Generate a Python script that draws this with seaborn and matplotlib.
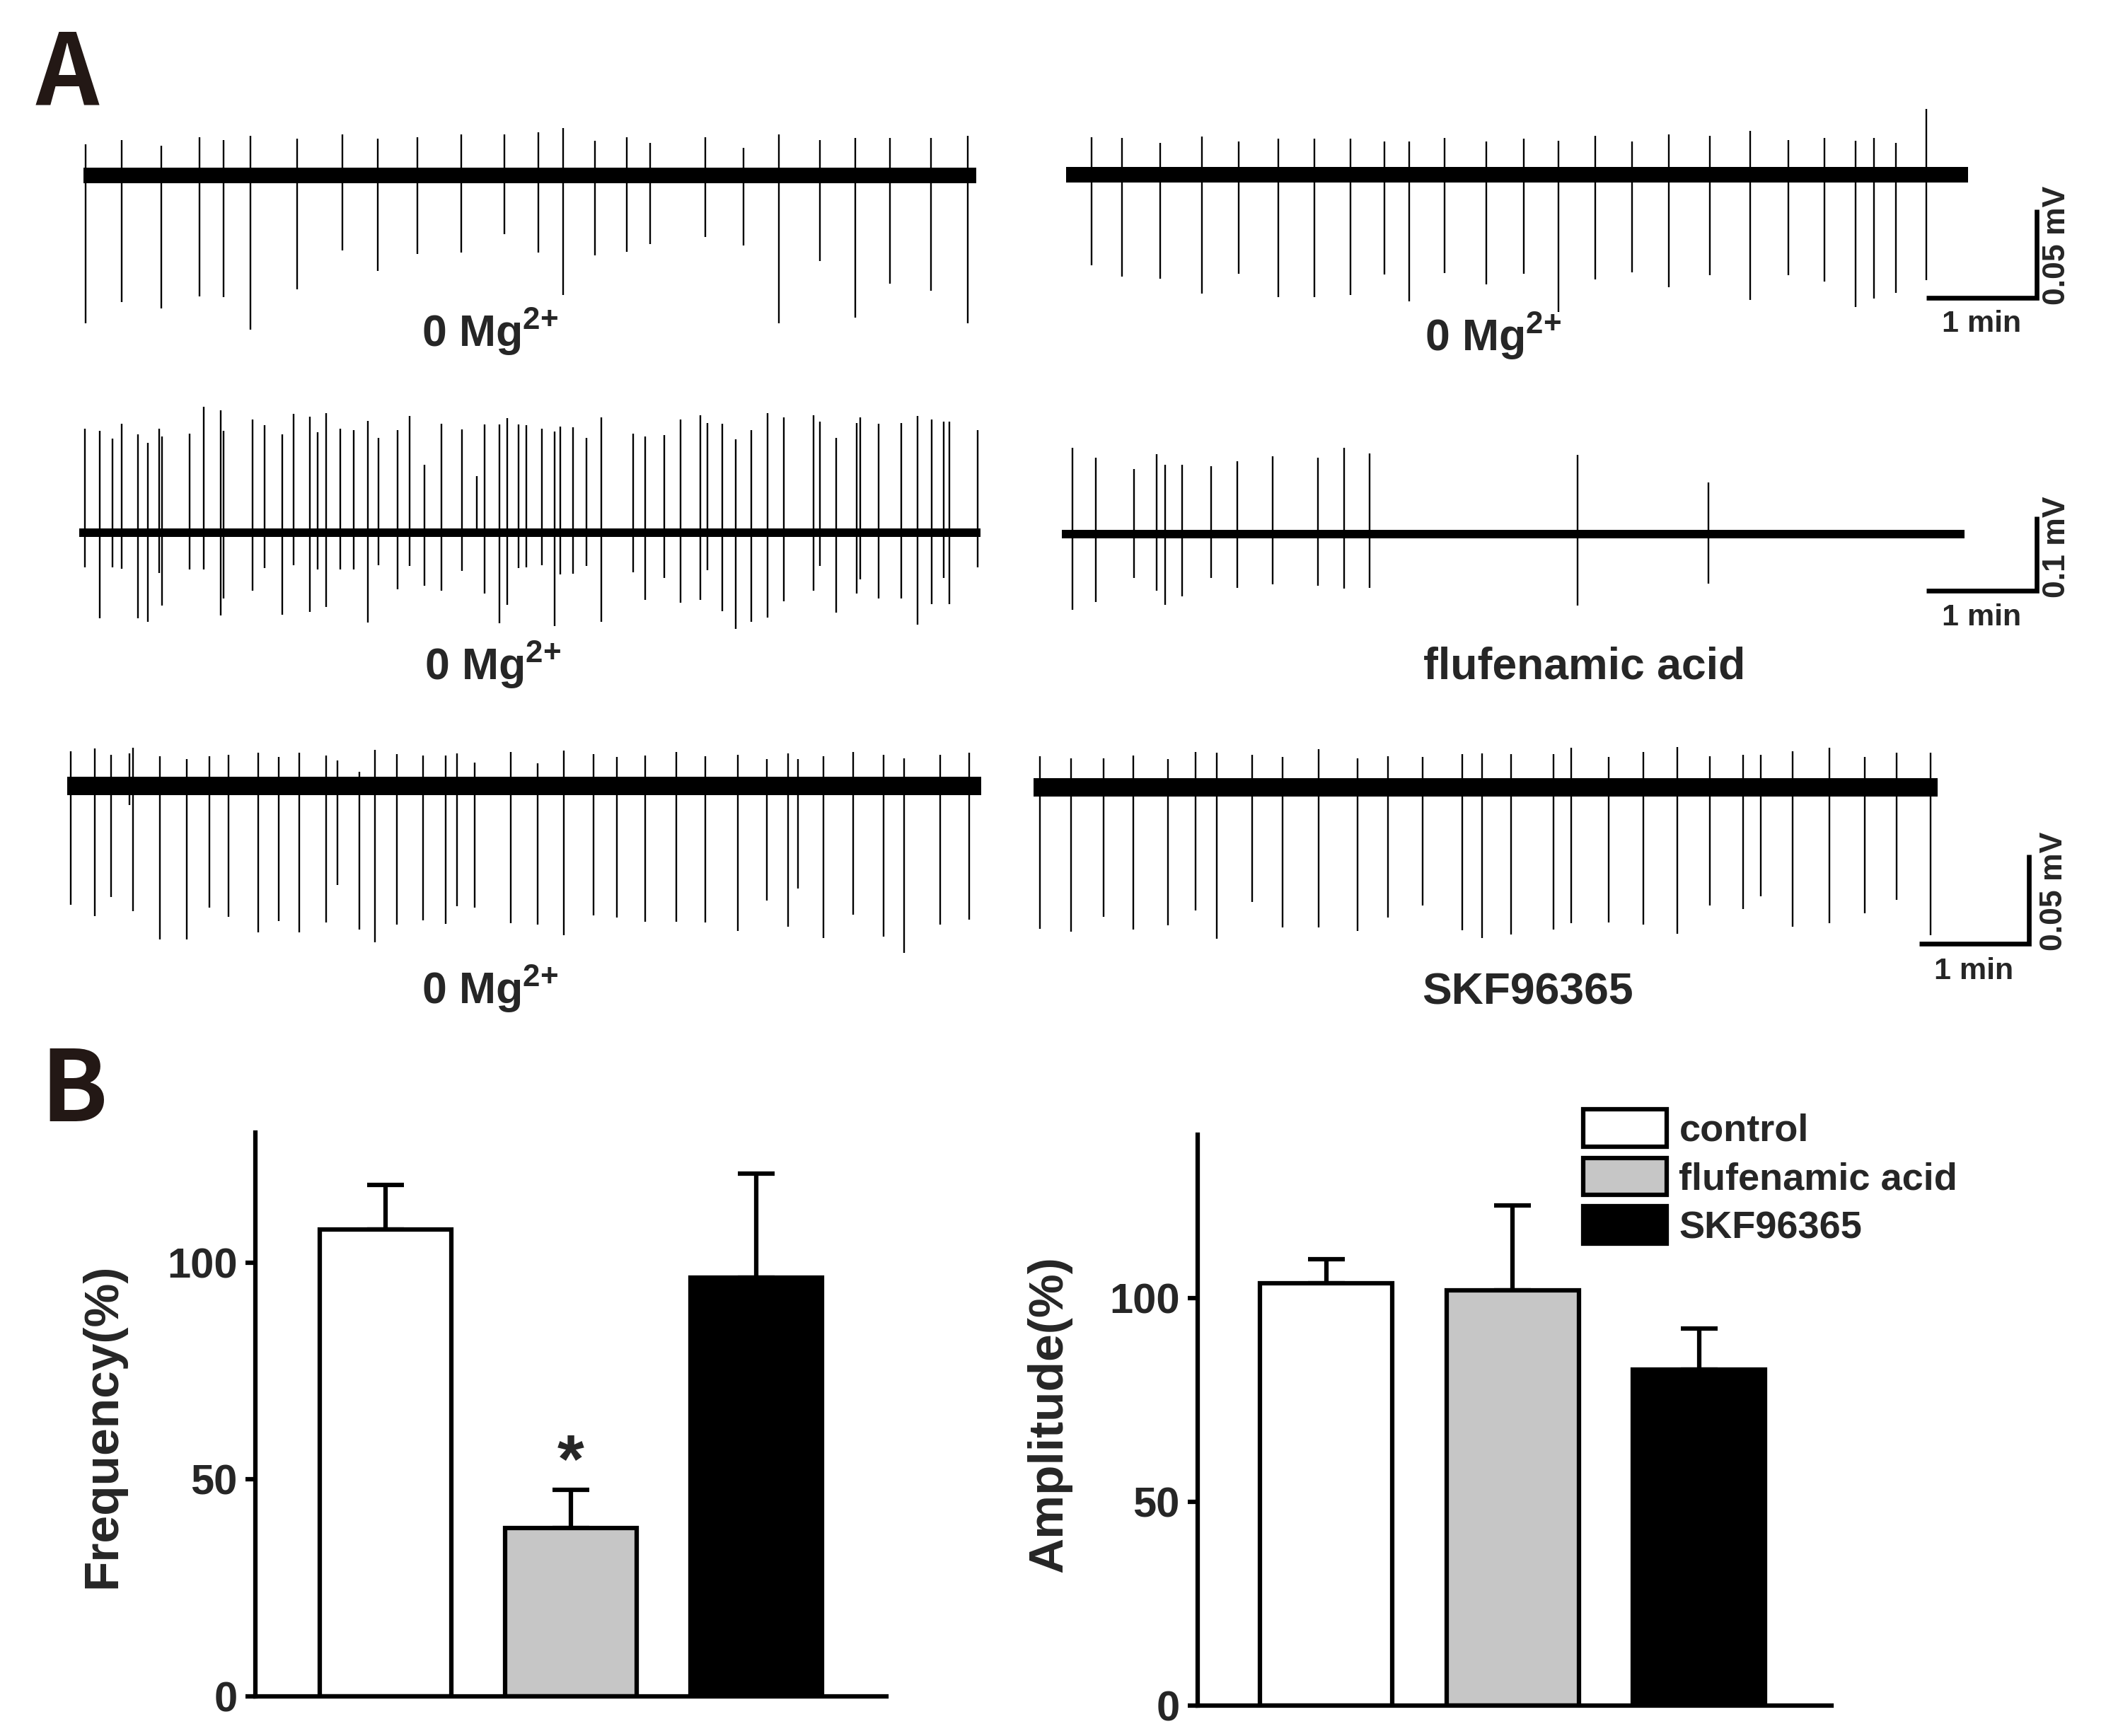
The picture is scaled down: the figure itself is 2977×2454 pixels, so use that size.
import numpy as np
import matplotlib
matplotlib.use("Agg")
import matplotlib.pyplot as plt
import seaborn as sns
from matplotlib.patches import Patch

# ---------------- DATA ----------------
# Panel A: extracellular spike traces (spike time in s, upward / downward deflection in microvolts)
r1l_t = [1.0, 20.7, 42.4, 63.1, 76.2, 90.9, 116.0, 140.9, 160.0, 181.7, 205.3, 228.9, 247.4,
         260.8, 278.0, 295.5, 308.0, 337.9, 359.0, 378.1, 400.4, 419.5, 438.4, 460.7, 480.8]
r1l_up = [17.7, 20.0, 16.9, 21.6, 20.0, 22.4, 20.9, 23.1, 20.7, 21.7, 23.3, 23.3, 24.3,
          26.7, 19.7, 21.7, 18.4, 21.7, 15.7, 23.3, 20.0, 21.1, 21.1, 21.1, 22.4]
r1l_down = [83.6, 71.6, 75.3, 68.4, 68.7, 87.1, 64.3, 42.4, 54.0, 44.4, 43.7, 33.2, 43.5,
            67.6, 45.3, 43.1, 38.9, 34.9, 39.7, 83.6, 48.4, 80.4, 61.3, 65.1, 83.6]

r1r_t = [13.7, 30.3, 51.0, 74.0, 93.7, 115.4, 134.9, 154.6, 173.1, 186.5, 205.9, 228.3, 249.0,
         267.8, 287.6, 307.6, 327.7, 350.0, 372.0, 392.8, 412.2, 429.1, 439.3, 451.1, 467.7]
r1r_up = [21.3, 20.7, 17.9, 21.6, 18.9, 20.3, 20.5, 20.3, 18.7, 18.7, 20.9, 18.9, 20.3,
          19.3, 22.0, 18.7, 22.9, 21.9, 24.9, 19.6, 20.9, 19.2, 20.9, 17.9, 37.2]
r1r_down = [51.1, 57.7, 58.7, 67.1, 56.1, 69.1, 69.1, 68.1, 56.4, 71.5, 55.7, 62.0, 56.0,
            77.6, 59.3, 55.1, 63.7, 56.8, 70.8, 56.8, 60.4, 74.7, 70.1, 66.8, 59.7]

r2l_t = [3.2, 11.2, 18.0, 23.1, 31.8, 37.3, 43.4, 45.0, 60.1, 67.5, 76.8, 78.4, 94.1, 100.9,
         110.2, 116.6, 125.3, 129.8, 134.3, 142.0, 149.1, 156.8, 162.6, 172.9, 179.6, 187.6,
         197.0, 208.2, 216.2, 220.4, 228.4, 232.6, 238.7, 242.9, 251.6, 258.3, 261.5, 268.6,
         275.7, 284.0, 301.1, 307.5, 318.1, 327.1, 337.7, 341.5, 349.6, 357.0, 365.3, 374.3,
         383.0, 399.4, 402.6, 411.6, 422.5, 424.8, 434.7, 446.9, 455.9, 463.3, 470.1, 473.0, 488.4]
r2l_up = [139.7, 137.5, 126.4, 146.4, 132.7, 120.7, 139.7, 129.5, 133.7, 169.9, 164.5, 137.5,
          152.4, 144.5, 132.1, 159.7, 155.9, 135.3, 161.3, 140.0, 138.1, 150.2, 128.0, 138.4,
          157.5, 91.4, 147.0, 139.1, 76.2, 145.4, 145.4, 154.0, 145.4, 144.5, 140.0, 135.9,
          143.2, 141.6, 127.3, 155.6, 133.4, 129.5, 131.1, 152.7, 158.1, 148.0, 147.0, 125.7,
          138.1, 161.3, 154.9, 158.1, 149.2, 128.0, 148.0, 154.9, 147.0, 147.6, 157.5, 152.4,
          149.2, 149.2, 138.1]
r2l_down = [46.7, 115.6, 46.7, 48.3, 115.6, 119.7, 54.6, 98.1, 49.2, 49.2, 111.8, 88.6, 78.4,
            47.3, 110.8, 43.5, 107.0, 49.2, 100.0, 49.2, 49.2, 121.3, 43.5, 75.9, 45.1, 71.4,
            78.4, 51.4, 3.0, 81.6, 121.9, 97.5, 47.3, 46.7, 43.5, 125.4, 56.2, 55.2, 44.5,
            119.7, 53.0, 90.2, 61.0, 94.3, 90.5, 50.5, 105.4, 129.9, 119.7, 114.3, 92.1, 78.4,
            45.1, 108.0, 81.6, 62.5, 88.9, 88.9, 123.5, 95.9, 61.0, 95.9, 46.7]

r2r_t = [5.8, 18.5, 39.2, 51.5, 56.3, 65.4, 81.0, 95.2, 114.6, 139.2, 153.5, 167.4, 280.4, 351.6]
r2r_up = [116.5, 103.2, 87.9, 107.3, 93.7, 93.0, 91.4, 97.8, 104.8, 103.2, 115.9, 108.9, 106.4, 69.9]
r2r_down = [102.2, 91.1, 58.7, 76.2, 95.3, 84.1, 58.7, 72.1, 67.6, 69.9, 73.7, 72.4, 95.9, 66.7]

r3l_t = [2.0, 15.0, 24.1, 33.9, 35.9, 50.9, 65.5, 77.9, 88.3, 104.6, 115.7, 127.1, 141.8,
         148.0, 159.7, 168.5, 180.6, 194.6, 207.3, 213.5, 223.0, 242.9, 257.5, 271.9, 287.9,
         300.9, 316.2, 333.2, 349.1, 367.1, 383.0, 394.5, 400.0, 413.7, 430.3, 446.9, 458.0,
         477.6, 493.6]
r3l_up = [19.6, 20.9, 17.6, 18.3, 21.6, 16.7, 15.0, 16.7, 17.6, 18.5, 16.3, 18.5, 17.2,
          14.3, 8.1, 20.2, 17.9, 17.2, 17.2, 18.3, 13.2, 19.2, 12.7, 19.8, 17.9,
          16.3, 17.2, 19.2, 16.7, 17.6, 15.0, 18.3, 15.0, 16.7, 19.2, 17.3, 15.6, 17.3, 18.5]
r3l_down = [66.8, 73.0, 62.4, 10.8, 70.4, 86.3, 86.0, 68.1, 73.4, 82.3, 75.7, 82.3, 76.6,
            55.6, 80.7, 87.6, 77.9, 75.4, 77.3, 67.3, 68.4, 77.0, 77.9, 83.9, 72.8,
            73.7, 76.1, 76.3, 76.7, 81.2, 64.4, 79.0, 57.4, 85.3, 72.4, 84.5, 93.8, 77.9, 75.0]

r3r_t = [3.3, 20.4, 38.5, 54.5, 73.4, 88.5, 100.4, 119.7, 136.3, 156.0, 177.5, 193.8, 213.0,
         234.5, 245.6, 261.2, 284.5, 294.2, 314.6, 333.8, 352.4, 370.1, 388.3, 397.9, 415.3,
         435.7, 455.0, 472.4, 490.9]
r3r_up = [17.6, 16.1, 16.1, 17.9, 15.9, 19.8, 19.4, 18.1, 17.2, 21.4, 16.1, 17.5, 17.2,
          18.8, 18.9, 18.5, 18.5, 22.2, 17.2, 19.8, 22.8, 17.6, 18.1, 18.3, 20.1, 22.1, 17.2,
          19.6, 19.6]
r3r_down = [79.4, 81.1, 72.5, 79.8, 77.4, 69.2, 84.9, 64.2, 78.5, 78.7, 80.4, 73.0, 66.2,
            80.0, 84.4, 82.7, 79.6, 76.1, 75.7, 77.0, 82.0, 66.4, 68.1, 61.1, 78.3, 76.1, 70.8,
            63.1, 83.0]

MG = "0 Mg$^{\\mathrm{2{+}}}$"
trace_labels = [MG, MG, MG, "flufenamic acid", MG, "SKF96365"]
scale_text_time = "1 min"
scale_text_amp = ["0.05 mV", "0.1 mV", "0.05 mV"]
scale_amp_uV = [50, 100, 50]
scale_time_s = 60

# Panel B: bar charts
categories = ["control", "flufenamic acid", "SKF96365"]
freq_mean = [107.7, 38.9, 96.6]
freq_sem = [10.2, 8.8, 23.9]
amp_mean = [103.6, 101.8, 82.4]
amp_sem = [5.9, 20.8, 10.1]
bar_colors = ["#ffffff", "#c6c6c6", "#000000"]
freq_ticks = [0, 50, 100]
amp_ticks = [0, 50, 100]

# ---------------- STYLE ----------------
sns.set_theme(style="ticks")
plt.rcParams["font.family"] = ["Liberation Sans", "DejaVu Sans"]
plt.rcParams["font.weight"] = "bold"
plt.rcParams["mathtext.fontset"] = "custom"
plt.rcParams["mathtext.rm"] = "Liberation Sans:bold"
plt.rcParams["mathtext.bf"] = "Liberation Sans:bold"
plt.rcParams["mathtext.it"] = "Liberation Sans:bold"

W, H = 2977, 2454
fig = plt.figure(figsize=(W / 100, H / 100), dpi=100)
fig.patch.set_facecolor("white")


def px_axes(x0, y_top, w, h):
    return fig.add_axes([x0 / W, 1 - (y_top + h) / H, w / W, h / H])


def fig_text(x, y, s, **kw):
    return fig.text(x / W, 1 - y / H, s, **kw)


# ---------------- PANEL A ----------------
traces = [
    # t, up, down, start_px, baseline_px, px/s, px/uV, duration, ylim, noise half-width
    (r1l_t, r1l_up, r1l_down, 118, 248, 2.6, 2.5, 485.5, (-100, 45), 4.4),
    (r1r_t, r1r_up, r1r_down, 1507, 247, 2.6, 2.5, 490.3, (-100, 45), 4.4),
    (r2l_t, r2l_up, r2l_down, 112, 753, 2.6, 1.05, 490.0, (-140, 180), 5.7),
    (r2r_t, r2r_up, r2r_down, 1501, 755, 2.6, 1.05, 490.6, (-140, 180), 5.7),
    (r3l_t, r3l_up, r3l_down, 95, 1111, 2.583, 2.52, 500.1, (-100, 30), 5.0),
    (r3r_t, r3r_up, r3r_down, 1461, 1113, 2.583, 2.52, 494.6, (-100, 30), 5.0),
]
trace_axes = []
for (t, up, down, x0, base, pps, ppu, dur, (lo, hi), noise) in traces:
    ax = px_axes(x0, base - hi * ppu, dur * pps, (hi - lo) * ppu)
    ax.fill_between([0, dur], -noise, noise, color="black", lw=0)
    ax.vlines(t, -np.asarray(down), np.asarray(up), color="black", lw=1.7)
    ax.set_xlim(0, dur)
    ax.set_ylim(lo, hi)
    ax.axis("off")
    trace_axes.append(ax)

# condition labels
label_pos = [(693, 490), (2111, 496), (697, 961), (2240, 959), (693, 1419), (2159, 1419)]
for (lx, ly), s in zip(label_pos, trace_labels):
    fig_text(lx, ly, s, ha="center", va="baseline", fontsize=45, fontweight="bold")

# scale bars (drawn in the right-hand trace axes of each row)
bar_anchor = [(467.7, -69.6), (470.0, -76.2), (484.7, -87.7)]
time_text_y = [-84.4, -112.4, -103.2]
amp_text_pos = [(538.5, -40.0), (540.8, -17.1), (558.6, -58.3)]
for i, ax in enumerate([trace_axes[1], trace_axes[3], trace_axes[5]]):
    bx, by = bar_anchor[i]
    ax.plot([bx, bx + scale_time_s, bx + scale_time_s], [by, by, by + scale_amp_uV[i]],
            color="black", lw=4.8, clip_on=False, solid_joinstyle="miter",
            solid_capstyle="butt")
    ax.text(bx + scale_time_s / 2, time_text_y[i], scale_text_time, ha="center",
            va="center", fontsize=31, fontweight="bold", clip_on=False)
    ax.text(amp_text_pos[i][0], amp_text_pos[i][1], scale_text_amp[i], ha="center",
            va="center", rotation=90, fontsize=32, fontweight="bold", clip_on=False)

# panel letters
fig_text(51, 148, "A", fontsize=100, family=["Noto Sans CJK SC", "DejaVu Sans"],
         fontweight="bold", color="#231815", ha="left", va="baseline")
fig_text(57, 1585, "B", fontsize=100, family=["Noto Sans CJK SC", "DejaVu Sans"],
         fontweight="bold", color="#231815", ha="left", va="baseline")

# ---------------- PANEL B ----------------
def bar_panel(ax, means, sems, ylim, ticks, ylabel, xlim, label_x, label_y):
    sns.barplot(x=categories, y=means, hue=categories, palette=bar_colors,
                saturation=1, edgecolor="black", linewidth=4.5, width=0.71,
                legend=False, errorbar=None, ax=ax)
    ax.errorbar(range(len(categories)), means, yerr=[[0] * len(sems), sems], fmt="none",
                ecolor="black", elinewidth=4.5, capsize=18.7, capthick=4.5, zorder=0.9)
    ax.set_ylim(*ylim)
    ax.set_xlim(*xlim)
    ax.set_yticks(ticks)
    ax.set_xticks([])
    ax.set_xlabel("")
    sns.despine(ax=ax)
    for side in ["left", "bottom"]:
        ax.spines[side].set_linewidth(4.5)
        ax.spines[side].set_color("black")
    ax.tick_params(axis="y", length=10, width=4.5, labelsize=43, pad=8,
                   color="black", direction="out")
    for lab in ax.get_yticklabels():
        lab.set_fontweight("bold")
    ax.set_ylabel(ylabel, fontsize=50, fontweight="bold")
    ax.yaxis.set_label_coords(label_x, label_y)
    ax.set_facecolor("white")


ax1 = px_axes(361, 1601, 892, 797)
bar_panel(ax1, freq_mean, freq_sem, (0, 130), freq_ticks, "Frequency(%)",
          (-0.70, 2.70), -0.206, 0.48)
ax1.text(1, 53.5, "*", ha="center", va="center", fontsize=70, fontweight="bold")

ax2 = px_axes(1693, 1604, 896, 807)
bar_panel(ax2, amp_mean, amp_sem, (0, 140), amp_ticks, "Amplitude(%)",
          (-0.69, 2.71), -0.1987, 0.51)

handles = [Patch(facecolor=c, edgecolor="black", linewidth=4.5) for c in bar_colors]
ax2.legend(handles, categories, loc="upper left",
           bbox_to_anchor=(2238 / W, 1 - 1568 / H), bbox_transform=fig.transFigure,
           frameon=False, fontsize=39, handlelength=2.18, handleheight=1.12,
           handletextpad=0.32, labelspacing=0.24, borderpad=0, borderaxespad=0)

fig.savefig("out.png", dpi=100, facecolor="white")
